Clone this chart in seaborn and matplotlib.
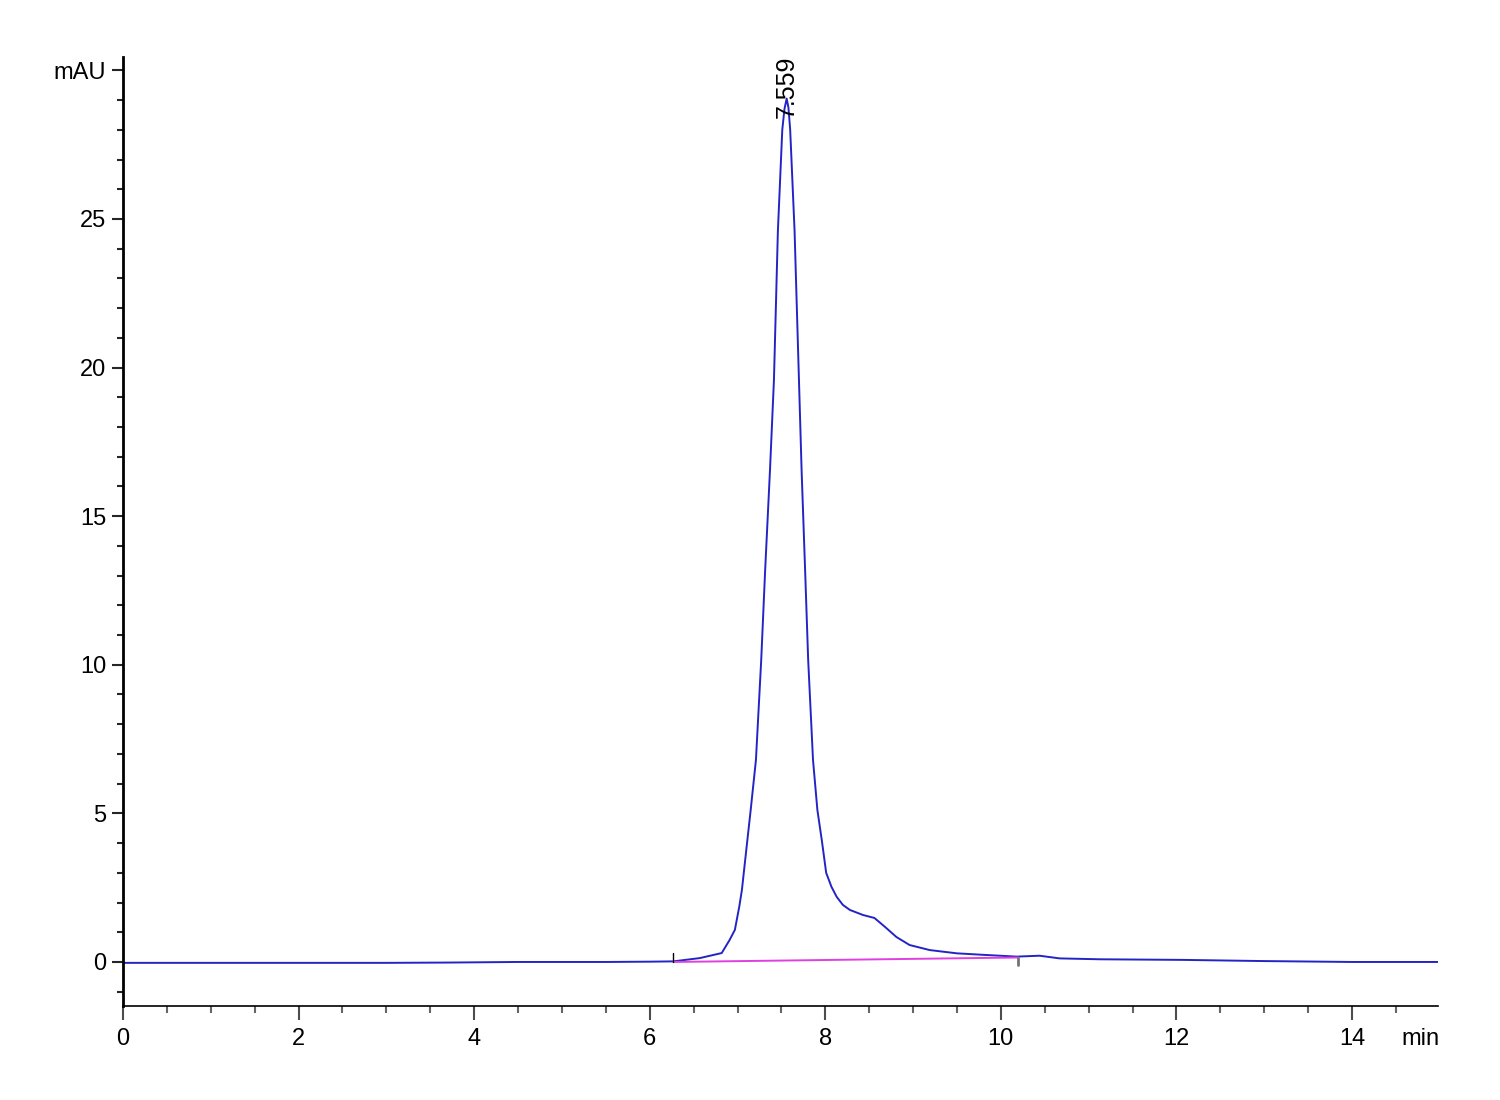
#!/usr/bin/env python3
"""HPLC chromatogram: single main peak at 7.559 min."""

import matplotlib
matplotlib.use("Agg")
import matplotlib.pyplot as plt
import seaborn as sns
from matplotlib.ticker import MultipleLocator

# Signal trace (time in min, absorbance in mAU).
time_min = [0.0, 1.0, 2.0, 3.0, 3.7, 4.5, 5.5, 6.0, 6.27, 6.57, 6.82, 6.91,
            6.97, 7.02, 7.05, 7.10, 7.15, 7.21, 7.27, 7.315, 7.37, 7.415,
            7.46, 7.51, 7.535, 7.56, 7.58, 7.60, 7.65, 7.70, 7.73, 7.77,
            7.805, 7.86, 7.91, 7.96, 8.01, 8.07, 8.13, 8.20, 8.28, 8.43,
            8.56, 8.68, 8.81, 8.96, 9.19, 9.5, 9.8, 10.18, 10.44, 10.67,
            11.13, 12.07, 13.0, 14.0, 15.0]
signal_mau = [-0.03, -0.03, -0.03, -0.03, -0.02, 0.0, 0.0, 0.01, 0.02, 0.13,
              0.30, 0.74, 1.08, 1.86, 2.42, 3.77, 5.11, 6.8, 10.16, 13.19,
              16.55, 19.58, 24.6, 28.0, 28.7, 29.05, 28.75, 28.0, 24.6, 19.58,
              16.55, 13.19, 10.16, 6.8, 5.11, 4.1, 3.0, 2.53, 2.19, 1.92, 1.75,
              1.58, 1.48, 1.18, 0.84, 0.57, 0.40, 0.29, 0.24, 0.18, 0.21, 0.12,
              0.09, 0.07, 0.03, 0.0, 0.0]

# Integration baseline drawn under the peak.
baseline_time = [6.27, 10.2]
baseline_mau = [0.0, 0.15]

peak_time = 7.559
peak_label = "7.559"

x_major = [0, 2, 4, 6, 8, 10, 12, 14]
y_major = [0, 5, 10, 15, 20, 25, 30]
y_labels = ["0", "5", "10", "15", "20", "25", "mAU"]


def main() -> None:
    sns.set_style("ticks")
    plt.rcParams["font.family"] = ["Liberation Sans", "DejaVu Sans"]
    plt.rcParams["text.color"] = "black"

    fig = plt.figure(figsize=(15, 11), dpi=100)
    ax = fig.add_axes([0.082, 0.0855, 0.8767, 0.8627])

    sns.lineplot(x=time_min, y=signal_mau, ax=ax, color="#2424c4",
                 linewidth=1.4, estimator=None, sort=False)
    ax.plot(baseline_time, baseline_mau, color="#e040e0", linewidth=1.4)

    # Start/end markers of the integration window.
    ax.plot([baseline_time[0]] * 2, [baseline_mau[0], baseline_mau[0] + 0.3],
            color="black", linewidth=1.0)
    ax.plot([baseline_time[1]] * 2, [baseline_mau[1] - 0.25, baseline_mau[1]],
            color="0.45", linewidth=2.0)

    ax.text(peak_time, 28.4, peak_label, rotation=90, ha="center", va="bottom",
            fontsize=18, color="black")

    ax.set_xlim(0, 14.98)
    ax.set_ylim(-1.48, 30.45)
    ax.set_xticks(x_major)
    ax.set_yticks(y_major)
    ax.set_yticklabels(y_labels)
    ax.xaxis.set_minor_locator(MultipleLocator(0.5))
    ax.yaxis.set_minor_locator(MultipleLocator(1))

    ax.tick_params(axis="x", which="major", length=10, width=1.5, colors="0.3",
                   labelcolor="black", labelsize=17, pad=6, direction="out")
    ax.tick_params(axis="x", which="minor", length=5, width=1.5, colors="0.4",
                   direction="out")
    ax.tick_params(axis="y", which="major", length=8, width=1.5, colors="0.15",
                   labelcolor="black", labelsize=17, pad=4, direction="out")
    ax.tick_params(axis="y", which="minor", length=4, width=1.5, colors="0.15",
                   direction="out")

    ax.set_xlabel("")
    ax.set_ylabel("")
    sns.despine(ax=ax, top=True, right=True)
    ax.spines["left"].set_linewidth(2.0)
    ax.spines["bottom"].set_linewidth(1.2)
    ax.spines["left"].set_color("black")
    ax.spines["bottom"].set_color("black")

    ax.annotate("min", xy=(14.78, 0), xycoords=("data", "axes fraction"),
                xytext=(0, -16), textcoords="offset points",
                ha="center", va="top", fontsize=17, color="black")

    fig.savefig("out.png", dpi=100, facecolor="white")


if __name__ == "__main__":
    main()
